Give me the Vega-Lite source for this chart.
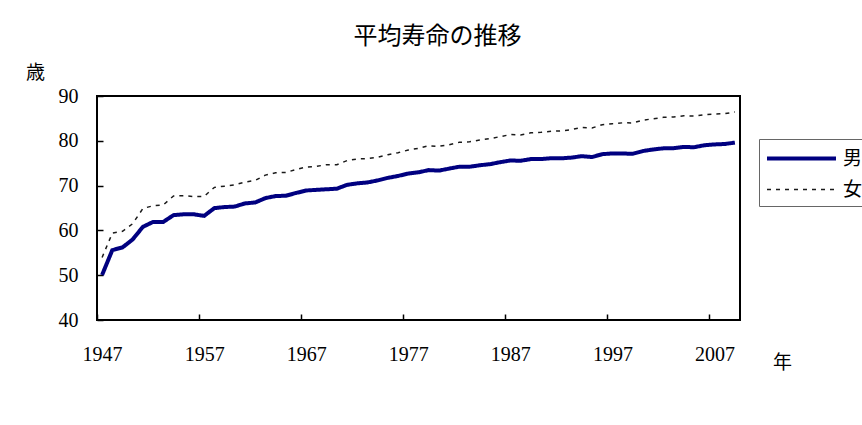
{
  "$schema": "https://vega.github.io/schema/vega-lite/v6.json",
  "autosize": "none",
  "width": 643,
  "height": 224,
  "padding": {"left": 97, "top": 96, "right": 122, "bottom": 105},
  "background": "white",
  "title": {
    "text": "平均寿命の推移",
    "font": "Noto Sans CJK JP",
    "fontSize": 24,
    "fontWeight": "normal",
    "color": "#000",
    "anchor": "middle",
    "frame": "group",
    "dx": 19,
    "baseline": "alphabetic",
    "offset": -5
  },
  "data": {
    "values": [
      {"year": 1947, "男": 50.06, "女": 53.96},
      {"year": 1948, "男": 55.6, "女": 59.4},
      {"year": 1949, "男": 56.2, "女": 59.8},
      {"year": 1950, "男": 58.0, "女": 61.5},
      {"year": 1951, "男": 60.8, "女": 64.9},
      {"year": 1952, "男": 61.9, "女": 65.5},
      {"year": 1953, "男": 61.9, "女": 65.7},
      {"year": 1954, "男": 63.41, "女": 67.69},
      {"year": 1955, "男": 63.6, "女": 67.75},
      {"year": 1956, "男": 63.59, "女": 67.54},
      {"year": 1957, "男": 63.24, "女": 67.6},
      {"year": 1958, "男": 64.98, "女": 69.61},
      {"year": 1959, "男": 65.21, "女": 69.88},
      {"year": 1960, "男": 65.32, "女": 70.19},
      {"year": 1961, "男": 66.03, "女": 70.79},
      {"year": 1962, "男": 66.23, "女": 71.16},
      {"year": 1963, "男": 67.21, "女": 72.34},
      {"year": 1964, "男": 67.67, "女": 72.87},
      {"year": 1965, "男": 67.74, "女": 72.92},
      {"year": 1966, "男": 68.35, "女": 73.61},
      {"year": 1967, "男": 68.91, "女": 74.15},
      {"year": 1968, "男": 69.05, "女": 74.3},
      {"year": 1969, "男": 69.18, "女": 74.67},
      {"year": 1970, "男": 69.31, "女": 74.66},
      {"year": 1971, "男": 70.17, "女": 75.58},
      {"year": 1972, "男": 70.5, "女": 75.94},
      {"year": 1973, "男": 70.7, "女": 76.02},
      {"year": 1974, "男": 71.16, "女": 76.31},
      {"year": 1975, "男": 71.73, "女": 76.89},
      {"year": 1976, "男": 72.15, "女": 77.35},
      {"year": 1977, "男": 72.69, "女": 77.95},
      {"year": 1978, "男": 72.97, "女": 78.33},
      {"year": 1979, "男": 73.46, "女": 78.89},
      {"year": 1980, "男": 73.35, "女": 78.76},
      {"year": 1981, "男": 73.79, "女": 79.13},
      {"year": 1982, "男": 74.22, "女": 79.66},
      {"year": 1983, "男": 74.2, "女": 79.78},
      {"year": 1984, "男": 74.54, "女": 80.18},
      {"year": 1985, "男": 74.78, "女": 80.48},
      {"year": 1986, "男": 75.23, "女": 80.93},
      {"year": 1987, "男": 75.61, "女": 81.39},
      {"year": 1988, "男": 75.54, "女": 81.3},
      {"year": 1989, "男": 75.91, "女": 81.77},
      {"year": 1990, "男": 75.92, "女": 81.9},
      {"year": 1991, "男": 76.11, "女": 82.11},
      {"year": 1992, "男": 76.09, "女": 82.22},
      {"year": 1993, "男": 76.25, "女": 82.51},
      {"year": 1994, "男": 76.57, "女": 82.98},
      {"year": 1995, "男": 76.38, "女": 82.85},
      {"year": 1996, "男": 77.01, "女": 83.59},
      {"year": 1997, "男": 77.19, "女": 83.82},
      {"year": 1998, "男": 77.16, "女": 84.01},
      {"year": 1999, "男": 77.1, "女": 83.99},
      {"year": 2000, "男": 77.72, "女": 84.6},
      {"year": 2001, "男": 78.07, "女": 84.93},
      {"year": 2002, "男": 78.32, "女": 85.23},
      {"year": 2003, "男": 78.36, "女": 85.33},
      {"year": 2004, "男": 78.64, "女": 85.59},
      {"year": 2005, "男": 78.56, "女": 85.52},
      {"year": 2006, "男": 79.0, "女": 85.81},
      {"year": 2007, "男": 79.19, "女": 85.99},
      {"year": 2008, "男": 79.29, "女": 86.05},
      {"year": 2009, "男": 79.59, "女": 86.44}
    ]
  },
  "transform": [{"fold": ["男", "女"], "as": ["sex", "value"]}],
  "mark": {"type": "line", "clip": true},
  "encoding": {
    "x": {
      "field": "year",
      "type": "quantitative",
      "scale": {"domain": [1946.5, 2009.5], "nice": false, "zero": false},
      "axis": {
        "values": [1946.5, 1956.5, 1966.5, 1976.5, 1986.5, 1996.5, 2006.5],
        "labelExpr": "format(datum.value + 0.5, 'd')",
        "labelOffset": 5.1,
        "labelFlush": false,
        "labelPadding": 30,
        "tickSize": -6,
        "title": "年",
        "titleX": 685,
        "titleY": 42,
        "titleAlign": "center",
        "titleBaseline": "middle",
        "titleAngle": 0
      }
    },
    "y": {
      "field": "value",
      "type": "quantitative",
      "scale": {"domain": [40, 90], "nice": false, "zero": false},
      "axis": {
        "values": [40, 50, 60, 70, 80, 90],
        "labelPadding": 25,
        "tickSize": -6,
        "title": "歳",
        "titleX": -62,
        "titleY": -24,
        "titleAlign": "center",
        "titleBaseline": "middle",
        "titleAngle": 0
      }
    },
    "color": {
      "field": "sex",
      "type": "nominal",
      "scale": {"domain": ["男", "女"], "range": ["#000080", "#1a1a1a"]},
      "legend": {"title": null}
    },
    "strokeDash": {
      "field": "sex",
      "type": "nominal",
      "scale": {"domain": ["男", "女"], "range": [[1, 0], [4, 5]]},
      "legend": {"title": null}
    },
    "strokeWidth": {
      "field": "sex",
      "type": "nominal",
      "scale": {"domain": ["男", "女"], "range": [4, 1.5]},
      "legend": {"title": null}
    }
  },
  "config": {
    "font": "Liberation Serif, Noto Sans CJK JP",
    "view": {"stroke": "#000", "strokeWidth": 2},
    "axis": {
      "domain": false,
      "grid": false,
      "tickColor": "#000",
      "tickWidth": 1.5,
      "labelFont": "Liberation Serif",
      "labelFontSize": 20,
      "labelColor": "#000",
      "titleFont": "Noto Sans CJK JP",
      "titleFontSize": 19,
      "titleFontWeight": "normal",
      "titleColor": "#000"
    },
    "legend": {
      "orient": "none",
      "legendX": 662,
      "legendY": 43,
      "strokeColor": "#666",
      "padding": 6,
      "symbolType": "M-3,0H3",
      "symbolSize": 529,
      "symbolOffset": 23,
      "labelFont": "Noto Sans CJK JP",
      "labelFontSize": 19,
      "labelColor": "#000",
      "labelOffset": 28,
      "rowPadding": 8,
      "fillColor": "white"
    }
  }
}
